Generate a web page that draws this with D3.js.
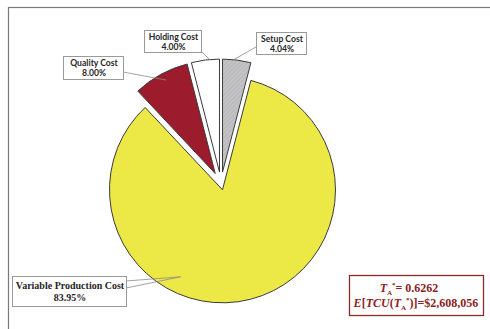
<!DOCTYPE html>
<html lang="en">
<head>
    <meta charset="UTF-8">
    <title>Cost shares</title>
    <script src="https://d3js.org/d3.v7.min.js"></script>
    <style>
        body { margin: 0; background: #fff; }
    </style>
</head>
<body>
<script type="text/javascript">
    // data, in pie order (clockwise from 12 o'clock)
    var categories = ["Setup Cost", "Variable Production Cost", "Quality Cost", "Holding Cost"];
    var shares = [4.04, 83.95, 8.00, 4.00];
    var shareLabels = ["4.04%", "83.95%", "8.00%", "4.00%"];
    var resultTA = "0.6262";
    var resultCost = "$2,608,056";

    var width = 490;
    var height = 329;
    var cx = 221, cy = 184, radius = 113;

    // explode offset, box and leader line for each slice
    var layout = [
        {explode: 12, fill: "url(#hatch)", box: [256, 32, 50, 22], line: [[256, 47], [233, 60]], font: "sans"},
        {explode: 6, fill: "#ece846", box: [12, 276, 114, 30], line: null, font: "serif"},
        {explode: 12, fill: "#9c1c2e", box: [63, 56, 60, 23], line: [[123, 72], [166, 80]], font: "sans"},
        {explode: 12, fill: "#ffffff", box: [144, 30, 57, 22], line: [[202, 52], [210, 60]], font: "sans"}
    ];

    var svg = d3.select("body").append("svg")
        .attr("width", width)
        .attr("height", height);

    var defs = svg.append("defs");
    var hatch = defs.append("pattern")
        .attr("id", "hatch")
        .attr("patternUnits", "userSpaceOnUse")
        .attr("width", 3)
        .attr("height", 3)
        .attr("patternTransform", "rotate(45)");
    hatch.append("rect").attr("width", 3).attr("height", 3).attr("fill", "#c4c4c6");
    hatch.append("line").attr("x1", 0).attr("y1", 0).attr("x2", 0).attr("y2", 3)
        .attr("stroke", "#a9a9ad").attr("stroke-width", 1);

    // outer frame
    svg.append("rect")
        .attr("x", 8.5)
        .attr("y", 7.5)
        .attr("width", 500)
        .attr("height", 340)
        .attr("fill", "none")
        .attr("stroke", "#7a7a7a")
        .attr("stroke-width", 1.2);

    var pie = d3.pie().sort(null).value(function (d) { return d; });
    var arcs = pie(shares);
    var arc = d3.arc().innerRadius(0).outerRadius(radius);

    var offset = function (d, i) {
        var mid = (d.startAngle + d.endAngle) / 2;
        var e = layout[i].explode;
        return [cx + Math.sin(mid) * e, cy - Math.cos(mid) * e];
    };

    svg.append("g").selectAll("path")
        .data(arcs)
        .enter()
        .append("path")
        .attr("transform", function (d, i) {
            var o = offset(d, i);
            return "translate(" + o[0] + "," + o[1] + ")";
        })
        .attr("d", arc)
        .attr("fill", function (d, i) { return layout[i].fill; })
        .attr("stroke", "#3a3a3a")
        .attr("stroke-width", 1)
        .attr("stroke-linejoin", "round");

    // leader lines
    var leaders = svg.append("g")
        .attr("stroke", "#8c8c8c")
        .attr("stroke-width", 0.8)
        .attr("fill", "none");
    layout.forEach(function (l) {
        if (l.line) {
            leaders.append("line")
                .attr("x1", l.line[0][0]).attr("y1", l.line[0][1])
                .attr("x2", l.line[1][0]).attr("y2", l.line[1][1]);
        }
    });
    // callout wedge of the variable cost label
    var varAnchor = (function () {
        var o = offset(arcs[1], 1);
        return [o[0] - 42, o[1] + 87];
    })();
    leaders.append("path")
        .attr("d", "M126,281L" + varAnchor[0] + "," + varAnchor[1] + "L126,288");

    // label boxes
    var labels = svg.append("g").selectAll("g")
        .data(categories)
        .enter()
        .append("g");

    labels.append("rect")
        .attr("x", function (d, i) { return layout[i].box[0] + 0.5; })
        .attr("y", function (d, i) { return layout[i].box[1] + 0.5; })
        .attr("width", function (d, i) { return layout[i].box[2]; })
        .attr("height", function (d, i) { return layout[i].box[3]; })
        .attr("fill", "#fff")
        .attr("stroke", "#9a9a9a")
        .attr("stroke-width", 1);

    var isSerif = function (i) { return layout[i].font === "serif"; };

    var labelText = labels.append("text")
        .attr("text-anchor", "middle")
        .attr("font-weight", "bold")
        .attr("fill", "#262626")
        .attr("font-family", function (d, i) {
            return isSerif(i) ? "'Liberation Serif', 'DejaVu Serif', serif" : "Lato, 'Open Sans', sans-serif";
        })
        .attr("font-size", function (d, i) { return isSerif(i) ? "10px" : "8.6px"; });

    labelText.append("tspan")
        .attr("x", function (d, i) { return layout[i].box[0] + layout[i].box[2] / 2 + 1; })
        .attr("y", function (d, i) { return layout[i].box[1] + (isSerif(i) ? 13 : 9.5); })
        .text(function (d) { return d; });
    labelText.append("tspan")
        .attr("x", function (d, i) { return layout[i].box[0] + layout[i].box[2] / 2 + 1; })
        .attr("y", function (d, i) { return layout[i].box[1] + (isSerif(i) ? 24.5 : 20); })
        .text(function (d, i) { return shareLabels[i]; });

    // result box
    var res = svg.append("g");
    res.append("rect")
        .attr("x", 349.5)
        .attr("y", 275.5)
        .attr("width", 134)
        .attr("height", 40)
        .attr("fill", "#fff")
        .attr("stroke", "#8b2a2a")
        .attr("stroke-width", 1.3);

    var resText = res.append("text")
        .attr("font-family", "'Liberation Serif', 'DejaVu Serif', serif")
        .attr("font-weight", "bold")
        .attr("font-size", "12px")
        .attr("fill", "#8b2323")
        .attr("text-anchor", "middle");

    var line1 = resText.append("tspan").attr("x", 409).attr("y", 292);
    line1.append("tspan").attr("font-style", "italic").text("T");
    line1.append("tspan").attr("font-size", "7px").attr("dy", 3).text("A");
    line1.append("tspan").attr("font-size", "7px").attr("dy", -8).text("*");
    line1.append("tspan").attr("dy", 5).text("= " + resultTA);

    var line2 = resText.append("tspan").attr("x", 416).attr("y", 307);
    line2.append("tspan").attr("font-style", "italic").text("E");
    line2.append("tspan").text("[");
    line2.append("tspan").attr("font-style", "italic").text("TCU");
    line2.append("tspan").text("(");
    line2.append("tspan").attr("font-style", "italic").text("T");
    line2.append("tspan").attr("font-size", "7px").attr("dy", 3).text("A");
    line2.append("tspan").attr("font-size", "7px").attr("dy", -8).text("*");
    line2.append("tspan").attr("dy", 5).text(")]=" + resultCost);
</script>
</body>
</html>
